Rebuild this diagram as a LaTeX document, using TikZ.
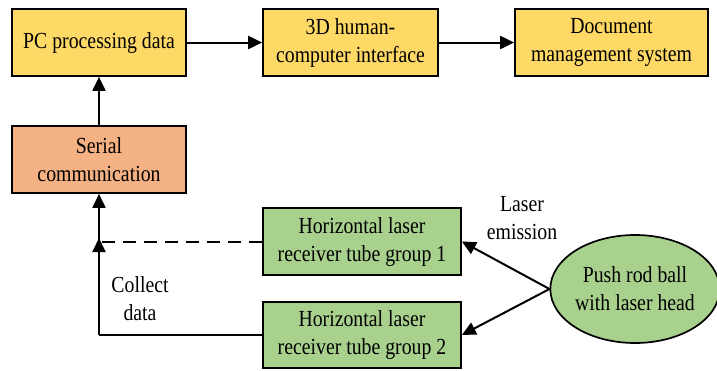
\documentclass[tikz,border=0pt]{standalone}
\usepackage{fontspec}
\setmainfont{Liberation Serif}[FakeStretch=0.86]
\usetikzlibrary{shapes.geometric,arrows.meta}
\definecolor{boxyellow}{RGB}{255,217,102}
\definecolor{boxorange}{RGB}{244,177,131}
\definecolor{boxgreen}{RGB}{169,209,142}
\begin{document}
\begin{tikzpicture}[x=1pt,y=-1pt,
  every node/.style={font=\fontsize{23}{28}\selectfont, align=center},
  blk/.style={draw=black, line width=1.7pt, inner sep=0pt, minimum height=67pt},
  ybox/.style={blk, fill=boxyellow},
  obox/.style={blk, fill=boxorange},
  gbox/.style={blk, fill=boxgreen},
  conn/.style={line width=2pt, -{Triangle[length=14pt,width=13pt]}},
  plain/.style={line width=2pt},
  dashline/.style={line width=2pt, dash pattern=on 13pt off 8pt}]
\useasboundingbox (0,0) rectangle (717,370);
\node[ybox, minimum width=174pt] (pc) at (99,42.5) {PC processing data};
\node[ybox, minimum width=175pt] (hci) at (350.5,42.5) {3D human-\\computer interface};
\node[ybox, minimum width=193pt] (doc) at (611.5,42.5) {Document\\management system};
\node[obox, minimum width=174pt] (ser) at (99,159.5) {Serial\\communication};
\node[gbox, minimum width=198pt] (g1) at (362,241.5) {Horizontal laser\\receiver tube group 1};
\node[gbox, minimum width=198pt, minimum height=66pt] (g2) at (362,335) {Horizontal laser\\receiver tube group 2};
\node[ellipse, draw=black, line width=1.7pt, fill=boxgreen, inner sep=0pt,
      minimum width=165pt, minimum height=108pt] (ell) at (635,289) {Push rod ball\\with laser head};
\node (collect) at (140,299) {Collect\\data};
\node (laser) at (522,218) {Laser\\emission};
\coordinate (corner) at (99,335);
\coordinate (junc) at (99,241.5);
\coordinate (jtip) at (99,238);
\draw[conn] (pc.east) -- (hci.west);
\draw[conn] (hci.east) -- (doc.west);
\draw[conn] (ser.north) -- (pc.south);
\draw[plain] (g2.west) -- (corner);
\draw[conn] (corner) -- (jtip);
\draw[conn] (junc) -- (ser.south);
\draw[dashline] (g1.west) -- (junc);
\draw[conn] (ell.west) -- (g1.east);
\draw[conn] (ell.west) -- (g2.east);
\end{tikzpicture}
\end{document}
